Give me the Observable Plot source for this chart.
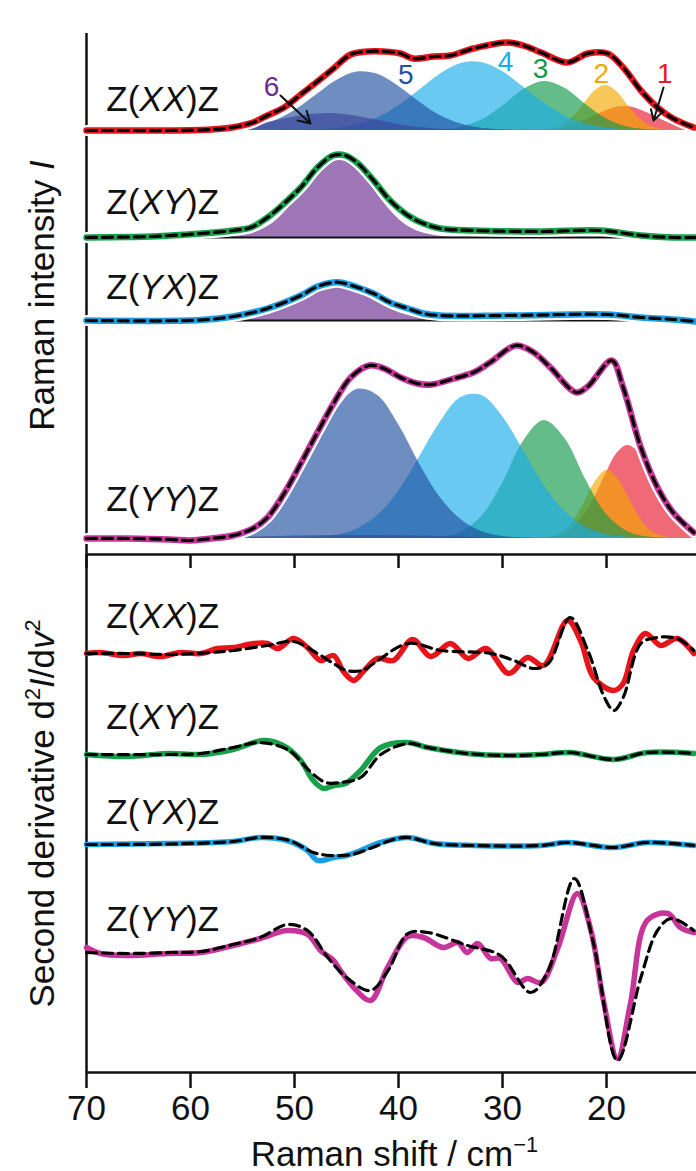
<!DOCTYPE html>
<html><head><meta charset="utf-8">
<script src="https://cdn.jsdelivr.net/npm/d3@7"></script>
<script src="https://cdn.jsdelivr.net/npm/@observablehq/plot@0.6"></script>
<style>
html,body{margin:0;padding:0;background:#fff;}
#chart svg{display:block;}
</style></head><body><div id="chart"></div>
<script>
// ---------- data: [Raman shift (cm-1), intensity (a.u.)] ----------
const shiftTicks = [70, 60, 50, 40, 30, 20];

// Raman spectra (observed = fit, drawn as colored line + dashed fit)
const xxTotal = [[70,0],[66,0],[62,0],[58,1],[56,3],[54,8],[52.6,15],[51,23],[49.4,36],[47.8,49],[46.25,62],[44.6,76],[43,79],[41.4,79],[39.8,77],[38.6,72],[36.6,74],[35,75],[32.8,82],[29.5,88],[28,85],[26.3,78],[23.75,68],[21.8,77],[19.9,77],[18.4,63],[16.7,40],[15.1,23],[13.6,12],[11.6,3]];
const xyTotal = [[70,0],[66,0.5],[63.8,1],[59,4],[55.9,7],[54.2,10],[52.6,20],[51,34],[49.4,50],[47.8,70],[46.3,82],[45.1,82],[43.9,74],[42.4,57],[40.8,37],[39.1,22],[37.6,14],[36,9],[32.8,7],[26.3,6],[20.6,7],[16.7,2],[13.6,0],[11.5,0]];
const yxTotal = [[70,0],[59,0.5],[55.9,4],[52.6,12],[49.4,25],[47.8,34],[46.3,38],[45.6,38],[43.9,33],[42.4,27],[40.8,18],[39.1,12],[37.6,7],[36,5],[29.5,5],[19.9,6],[16.7,3],[13.6,1],[11.5,-1]];
const yyTotal = [[70,0],[66,0],[62,-1],[60,-2],[58,0],[55.9,3],[54,10],[52.6,21],[51,45],[49.4,75],[47.8,106],[46.25,135],[44.6,161],[42.8,173],[41.4,170],[39.8,161],[38.2,155],[36.8,154],[35,159],[32.8,166],[31.2,176],[28.7,193],[27,186],[25.4,171],[22.9,146],[21.8,152],[19.5,178],[18.4,151],[16.7,91],[15.1,51],[13.6,26],[11.6,6]];

// fitted components (modes 1-6)
const xx1 = [[28,0],[26,0.6],[24,3.1],[22,10.2],[21,15.2],[20,20],[19,23.3],[18,24],[17,21.6],[16,17.2],[15,12.2],[14,7.6],[13,4.1],[12,2],[11,0.8]];
const xx2 = [[27,0],[25,2.2],[24,6.7],[23,15.7],[22,28.7],[21,40.7],[20,45],[19,38.7],[18,25.9],[17,13.5],[16,5.5],[15,1.7],[14,0.4],[13,0]];
const xx3 = [[40,0],[38,0.1],[36,0.7],[34,3.2],[32,10.4],[30,24.3],[28,40.8],[26,49],[24,42.2],[22,26],[20,11.5],[18,3.6],[16,0.8],[14,0.1],[12,0]];
const xx4 = [[52,0],[48,0.7],[46,2.1],[44,5.6],[42,12.7],[40,24.5],[38,40.2],[36,56.2],[34,67],[32,68.1],[30,59],[28,43.5],[26,27.4],[24,14.6],[22,6.7],[20,2.6],[18,0.9],[16,0.2],[14,0]];
const xx5 = [[62,0],[58,0.3],[56,1.1],[54,3.5],[52,9.3],[50,19.8],[48,34.7],[46,49.8],[44,58.5],[42,56.2],[40,44.2],[38,28.5],[36,15],[34,6.5],[32,2.3],[30,0.7],[28,0.2],[26,0]];
const xx6 = [[64,0],[60,0.4],[58,1],[56,2.6],[54,5.4],[52,9.3],[50,13.5],[48,16.5],[46,16.8],[44,14.3],[42,10.2],[40,6.1],[38,3],[36,1.3],[34,0.4],[32,0.1],[30,0]];
const xy6 = [[60,0],[56,0.9],[54,4.3],[53,8.4],[52,15],[51,24.7],[50,37],[49,51],[48,65],[47,75],[46,80],[45,78],[44,69.5],[43,57],[42,42.7],[41,29.4],[40,18.6],[39,10.7],[38,5.7],[36,1.2],[34,0.2],[32,0]];
const yx6 = [[60,0],[56,0.6],[54,2.6],[52,8.1],[51,12.5],[50,17.9],[49,23.7],[48,29],[47,32.7],[46,34],[45,32.7],[44,29],[43,23.7],[42,17.9],[41,12.5],[40,8.1],[38,2.6],[36,0.6],[32,0]];
const yy1 = [[28,0],[26,0.6],[24,5.3],[22,26],[21,44],[20,66],[19,85],[18,93],[17,87],[16,70],[15,49],[14,29],[13,15],[12,6.4],[11,2.5]];
const yy2 = [[28,0],[25,2.6],[24,8],[23,20],[22,39],[21,58],[20,68],[19,61],[18,43],[17,24],[16,10],[15,3.4],[14,0.9],[13,0.2],[12,0]];
const yy3 = [[40,0],[38,0.15],[36,1.1],[34,6],[32,22],[30,55],[28,97],[26,118],[24,100],[22,59],[20,24],[18,7],[16,1.4],[14,0.2],[12,0]];
const yy4 = [[54,0],[50,0.2],[48,1],[46,3],[44,9.5],[42,23],[40,47],[38,81],[36,116],[34,141],[32,143],[30,122],[28,88],[26,53],[24,27],[22,11.5],[20,4],[18,1.2],[16,0.3],[14,0]];
const yy5 = [[64,0],[60,0.2],[58,1],[56,3.5],[54,10.5],[52,26],[50,54],[48,91],[46,128],[44,149],[42,143],[40,114],[38,75],[36,41],[34,19],[32,7],[30,2],[28,0.6],[26,0]];
const yy6 = [[58,0],[54,1.5],[50,2.5],[46,3],[42,3],[38,2.5],[34,1.5],[30,0.5],[27,0]];

// second derivatives: observed and fit
const xxD = [[70,0],[68.65,1],[66.4,-2],[64.8,0],[62.9,-3],[61,1],[59,0],[57.4,5],[55.9,6],[53.9,10],[52.6,10],[51.6,5],[50.1,15],[48.75,6],[47.5,-7],[46.25,-2],[45.3,-18],[44.3,-27],[43.3,-17],[42,-5],[40.5,-7],[38.65,14],[36.9,-3],[35,10],[33.3,-5],[31.6,5],[29.4,-20],[27.6,-4],[26.05,-12],[23.75,33],[22.5,13],[21.25,-24],[19.3,-37],[18.4,-30],[17.4,3],[16.25,20],[14.8,8],[13.2,15],[11.6,0]];
const xxFit = [[70,0],[66,0],[62,-1],[58,1],[55.9,3],[52.6,8],[50.1,12],[47.8,0],[46.25,-10],[45,-17],[43.5,-17],[42.4,-10],[39.1,10],[35.9,3],[31.1,0],[28.9,-7],[27,-15],[25.6,-10],[23.5,36],[21.8,3],[20.2,-44],[19.3,-57],[18.4,-44],[16.7,10],[15.1,16],[13.2,15],[11.6,3]];
const xyD = [[70,0],[66.1,-2],[62.2,1],[59,0],[55.9,5],[53,14],[51.1,9],[49.4,-6],[48.2,-26],[47.2,-34],[46.25,-31],[45.1,-29],[43.65,-16],[41.7,7],[39.1,12],[37.2,7],[33.4,1],[29.5,-1],[26.3,0],[23.5,2],[19.3,-5],[16.1,2],[11.6,1]];
const xyFit = [[70,0],[62,0],[59,1],[55.9,7],[53.3,12],[50.5,4],[48.6,-16],[47,-28],[45.6,-28],[43.65,-23],[41.7,0],[39.1,11],[37.2,7],[33.4,1],[29.5,-1],[26.3,0],[23.5,2],[19.3,-5],[16.1,2],[11.6,1]];
const yxD = [[70,0],[62.2,1],[55.9,3],[53.3,7],[50.7,4],[48.75,-6],[47.8,-16],[46.25,-13],[45,-11],[43.65,-6],[41.7,2],[39.1,7],[36.6,1],[32.8,-1],[26.3,-1],[23.75,2],[19.3,-3],[16.1,2],[11.6,-1]];
const yxFit = [[70,0],[62,0.5],[55.9,3],[53.3,7],[50.5,4],[48.2,-8],[46.5,-11],[44.5,-10],[42.5,-3],[40.5,5],[39.1,7],[36.6,1],[32.8,-1],[26.3,-1],[23.75,2],[19.3,-3],[16.1,2],[11.6,-1]];
const yyD = [[70,5],[68.65,-1],[66.1,-3],[62.2,-1],[59,0],[55.9,7],[53.3,14],[50.7,22],[48.75,18],[47.5,2],[46.25,-8],[45.6,-18],[44.3,-35],[42.7,-48],[41.05,-15],[39.1,16],[37.6,15],[35.7,5],[34.3,10],[33.4,0],[32.4,9],[31.15,-6],[30.2,-6],[28.55,-30],[27.6,-26],[26.3,-30],[24.7,4],[22.8,59],[21.5,22],[20.3,-48],[18.95,-106],[17.7,-51],[16.1,32],[14.1,39],[12.9,25],[11.6,20]];
const yyFit = [[70,0],[66,-1],[62,0],[59,1],[55.9,8],[53.3,15],[50.7,28],[48.75,22],[46.8,-5],[45,-25],[42.7,-38],[41,-18],[39.1,19],[37.2,20],[33.4,7],[30.2,-3],[27.3,-40],[25.6,-18],[23.1,74],[21.25,9],[18.95,-108],[16.7,-25],[15.1,22],[13.8,34],[11.6,22]];

// mode labels: [text, shift, height]
const modeLabels = [["6",52.2,977],["5",39.3,989],["4",29.7,1002],["3",26.35,995],["2",20.5,990],["1",14.4,990]];
const modeArrows = [[51.35,977,48.46,949],[14.52,985,15.48,952]];

// ---------- layout / style ----------
const font = "'Liberation Sans', Arial, Helvetica, sans-serif";
const red = "#e8141c", green = "#17a14b", blue = "#1a9fe3", pink = "#c8359a";
const modeColor = {1:"#e8192c",2:"#f5a800",3:"#119a4a",4:"#1aace8",5:"#2050a0",6:"#6a2c91"};
const fillOrder = [1,2,3,4,6,5];
const topRows = [
  {label:"Z(XX)Z", base:942, labelY:962, color:red, obs:xxTotal, comps:{1:xx1,2:xx2,3:xx3,4:xx4,5:xx5,6:xx6}},
  {label:"Z(XY)Z", base:835, labelY:859, color:green, obs:xyTotal, comps:{6:xy6}},
  {label:"Z(YX)Z", base:752, labelY:774, color:blue, obs:yxTotal, comps:{6:yx6}},
  {label:"Z(YY)Z", base:534, labelY:562, color:pink, obs:yyTotal, comps:{1:yy1,2:yy2,3:yy3,4:yy4,5:yy5,6:yy6}}
];
const botRows = [
  {label:"Z(XX)Z", base:419, labelY:445, color:red, obs:xxD, fit:xxFit},
  {label:"Z(XY)Z", base:318, labelY:344, color:green, obs:xyD, fit:xyFit},
  {label:"Z(YX)Z", base:228, labelY:249, color:blue, obs:yxD, fit:yxFit},
  {label:"Z(YY)Z", base:120, labelY:142, color:pink, obs:yyD, fit:yyFit}
];

const marks = [];
const cv = "catmull-rom";
// component fills
for (const r of topRows) {
  for (const k of fillOrder) {
    if (!r.comps[k]) continue;
    marks.push(Plot.areaY(r.comps[k], {x: d => d[0], y1: () => r.base, y2: d => r.base + d[1], fill: modeColor[k], fillOpacity: 0.65, curve: cv}));
  }
}
// frame lines
marks.push(Plot.ruleY([835, 752], {stroke: "#111", strokeWidth: 2}));
marks.push(Plot.ruleY([518, 0], {stroke: "#111", strokeWidth: 2.5}));
marks.push(Plot.ruleX([70], {y1: 0, y2: 1039, stroke: "#111", strokeWidth: 2.5}));
marks.push(Plot.ruleX(shiftTicks, {y1: 518, y2: 504, stroke: "#111", strokeWidth: 2.5}));
// spectra
for (const r of topRows) {
  const acc = {x: d => d[0], y: d => r.base + d[1], curve: cv};
  marks.push(Plot.line(r.obs, {...acc, stroke: "white", strokeWidth: 11}));
  marks.push(Plot.line(r.obs, {...acc, stroke: r.color, strokeWidth: 6.5}));
  marks.push(Plot.line(r.obs, {...acc, stroke: "black", strokeWidth: 3.2, strokeDasharray: "10,6"}));
  marks.push(Plot.text([r.label], {x: 68.1, y: r.labelY, textAnchor: "start", lineAnchor: "bottom", fontSize: 35}));
}
for (const r of botRows) {
  marks.push(Plot.line(r.obs, {x: d => d[0], y: d => r.base + d[1], curve: cv, stroke: r.color, strokeWidth: 5.5}));
  marks.push(Plot.line(r.fit, {x: d => d[0], y: d => r.base + d[1], curve: cv, stroke: "black", strokeWidth: 3.2, strokeDasharray: "10,6"}));
  marks.push(Plot.text([r.label], {x: 68.1, y: r.labelY, textAnchor: "start", lineAnchor: "bottom", fontSize: 35}));
}
// mode annotations
marks.push(Plot.text(modeLabels, {x: d => d[1], y: d => d[2], text: d => d[0], fill: d => modeColor[d[0]], fontSize: 28, textAnchor: "middle", lineAnchor: "bottom"}));
marks.push(Plot.arrow(modeArrows, {x1: d => d[0], y1: d => d[1], x2: d => d[2], y2: d => d[3], stroke: "#111", strokeWidth: 2, headLength: 10}));
// axes and titles
marks.push(Plot.axisX({ticks: shiftTicks, tickSize: 16, tickPadding: 7, strokeWidth: 2.5, fontSize: 35, label: null, tickFormat: d => String(d)}));
marks.push(Plot.text(["Raman intensity I"], {x: 70, y: 777, dx: -33, rotate: -90, textAnchor: "middle", lineAnchor: "bottom", fontSize: 35}));
marks.push(Plot.text(["Second derivative d²I/dv²"], {x: 70, y: 259, dx: -33, rotate: -90, textAnchor: "middle", lineAnchor: "bottom", fontSize: 35}));
marks.push(Plot.text(["Raman shift / cm⁻¹"], {x: 40.4, y: -93, textAnchor: "middle", lineAnchor: "bottom", fontSize: 35}));

const svg = Plot.plot({
  width: 696, height: 1171,
  marginLeft: 86, marginRight: 0, marginTop: 33, marginBottom: 99,
  x: {domain: [70, 11.35], axis: null},
  y: {domain: [0, 1039], axis: null},
  style: {fontFamily: font, fontSize: "35px", background: "white", color: "#111", overflow: "visible"},
  marks
});
document.getElementById("chart").appendChild(svg);

// rich text: italics and superscripts
const rich = {
  "Z(XX)Z": [["Z("],["XX","i"],[")Z"]],
  "Z(XY)Z": [["Z("],["XY","i"],[")Z"]],
  "Z(YX)Z": [["Z("],["YX","i"],[")Z"]],
  "Z(YY)Z": [["Z("],["YY","i"],[")Z"]],
  "Raman intensity I": [["Raman intensity "],["I","i"]],
  "Second derivative d²I/dv²": [["Second derivative d"],["2","sup"],["I","i"],["/d"],["v","i"],["2","sup"]],
  "Raman shift / cm⁻¹": [["Raman shift / cm"],["−1","sup"]]
};
svg.querySelectorAll("text").forEach(t => {
  const segs = rich[t.textContent];
  if (!segs) return;
  const fs = parseFloat(getComputedStyle(t).fontSize) || 35;
  while (t.firstChild) t.removeChild(t.firstChild);
  let shifted = false;
  for (const [str, kind] of segs) {
    const ts = document.createElementNS("http://www.w3.org/2000/svg", "tspan");
    ts.textContent = str;
    if (kind === "i") ts.setAttribute("font-style", "italic");
    if (kind === "sup") {
      ts.setAttribute("font-size", (fs * 0.62).toFixed(1));
      if (!shifted) ts.setAttribute("dy", (-fs * 0.4).toFixed(1));
      shifted = true;
    } else if (shifted) {
      ts.setAttribute("dy", (fs * 0.4).toFixed(1));
      shifted = false;
    }
    t.appendChild(ts);
  }
});
</script></body></html>
